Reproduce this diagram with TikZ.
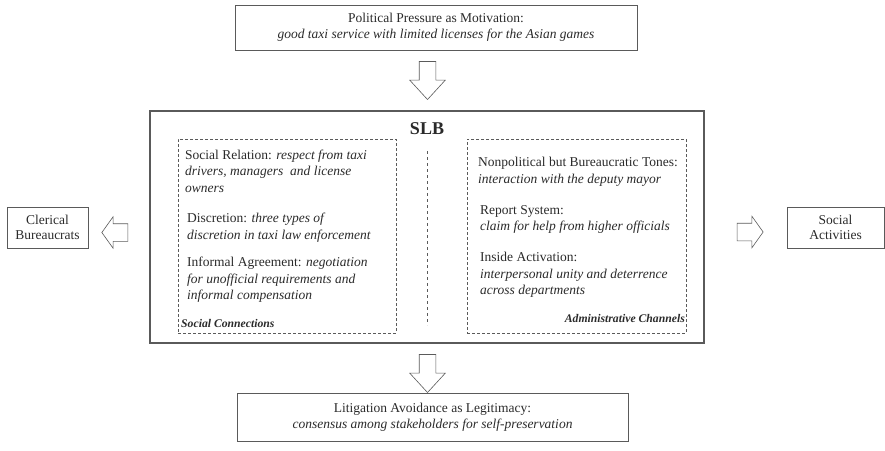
\documentclass[tikz,border=0pt]{standalone}
\usepackage{fontspec}
\setmainfont{Liberation Serif}
\usetikzlibrary{shapes.arrows}

\definecolor{linegray}{HTML}{5A5A5A}
\definecolor{textgray}{HTML}{2A2A2A}

\begin{document}
\begin{tikzpicture}[x=1pt, y=-1pt, draw=linegray, text=textgray, font=\fontsize{13.5}{16.5}\selectfont]
    \tikzstyle{every node}=[inner sep=0pt];
    \tikzstyle{plainbox}=[draw, line width=0.8pt, align=center];
    \tikzstyle{dashbox}=[draw, densely dashed, line width=0.6pt];
    \tikzstyle{item}=[anchor=north west, align=left];
    \tikzstyle{tag}=[font=\fontsize{11.7}{13}\selectfont\bfseries\itshape];
    \tikzstyle{vertarrow}=[single arrow, draw, line width=0.6pt, rotate=-90,
        inner xsep=0pt, inner ysep=8pt, single arrow head extend=9.5pt,
        minimum height=38pt, single arrow tip angle=85];
    \tikzstyle{sidearrow}=[single arrow, draw, line width=0.6pt,
        inner xsep=0pt, inner ysep=8.5pt, single arrow head extend=7pt,
        minimum height=26pt, single arrow tip angle=109];

    \useasboundingbox (0,0) rectangle (885,450);

    % outer boxes
    \node at (436, 27.5) (pressure) [plainbox, minimum width=402pt, minimum height=45pt]
        {Political Pressure as Motivation:\\[-1pt] \textit{good taxi service with limited licenses for the Asian games}};
    \node at (427, 227) (slb) [draw, line width=1.1pt, minimum width=554pt, minimum height=232pt] {};
    \node at (432.5, 417) (litigation) [plainbox, minimum width=391pt, minimum height=48pt]
        {Litigation Avoidance as Legitimacy:\\[-1pt] \textit{consensus among stakeholders for self-preservation}};
    \node at (47.5, 227.5) (clerical) [plainbox, minimum width=81pt, minimum height=41pt]
        {Clerical\\[-1pt] Bureaucrats};
    \node at (835.5, 227.5) (activities) [plainbox, minimum width=97pt, minimum height=41pt]
        {Social\\[-1pt] Activities};

    % inside the SLB box
    \node at (427, 129) (title) [font=\fontsize{18}{20}\selectfont\bfseries] {SLB};
    \node at (287, 236) (social) [dashbox, minimum width=218pt, minimum height=194pt] {};
    \node at (576.5, 236) (admin) [dashbox, minimum width=219pt, minimum height=194pt] {};
    \coordinate (split top) at (427, 151);
    \coordinate (split bottom) at (427, 325);
    \draw[dashed, line width=0.8pt] (split top) -- (split bottom);

    \node at (185, 149.5) (relation) [item]
        {Social Relation: \textit{respect from taxi}\\ \textit{drivers, managers\ \ and license}\\ \textit{owners}};
    \node at (187, 213) (discretion) [item]
        {Discretion: \textit{three types of}\\ \textit{discretion in taxi law enforcement}};
    \node at (187, 257) (agreement) [item]
        {Informal Agreement: \textit{negotiation}\\ \textit{for unofficial requirements and}\\ \textit{informal compensation}};
    \node at (181, 323) (social tag) [tag, anchor=west] {Social Connections};

    \node at (478, 157) (tones) [item]
        {Nonpolitical but Bureaucratic Tones:\\ \textit{interaction with the deputy mayor}};
    \node at (480, 205) (report) [item]
        {Report System:\\ \textit{claim for help from higher officials}};
    \node at (480, 252) (inside) [item]
        {Inside Activation:\\ \textit{interpersonal unity and deterrence}\\ \textit{across departments}};
    \node at (685, 318) (admin tag) [tag, anchor=east] {Administrative Channels};

    % block arrows
    \node at (427.5, 76) (arrow in) [vertarrow] {};
    \node at (427.5, 369) (arrow out) [vertarrow] {};
    \node at (118, 232.5) (arrow left) [sidearrow, rotate=180] {};
    \node at (747, 232) (arrow right) [sidearrow] {};
\end{tikzpicture}
\end{document}
